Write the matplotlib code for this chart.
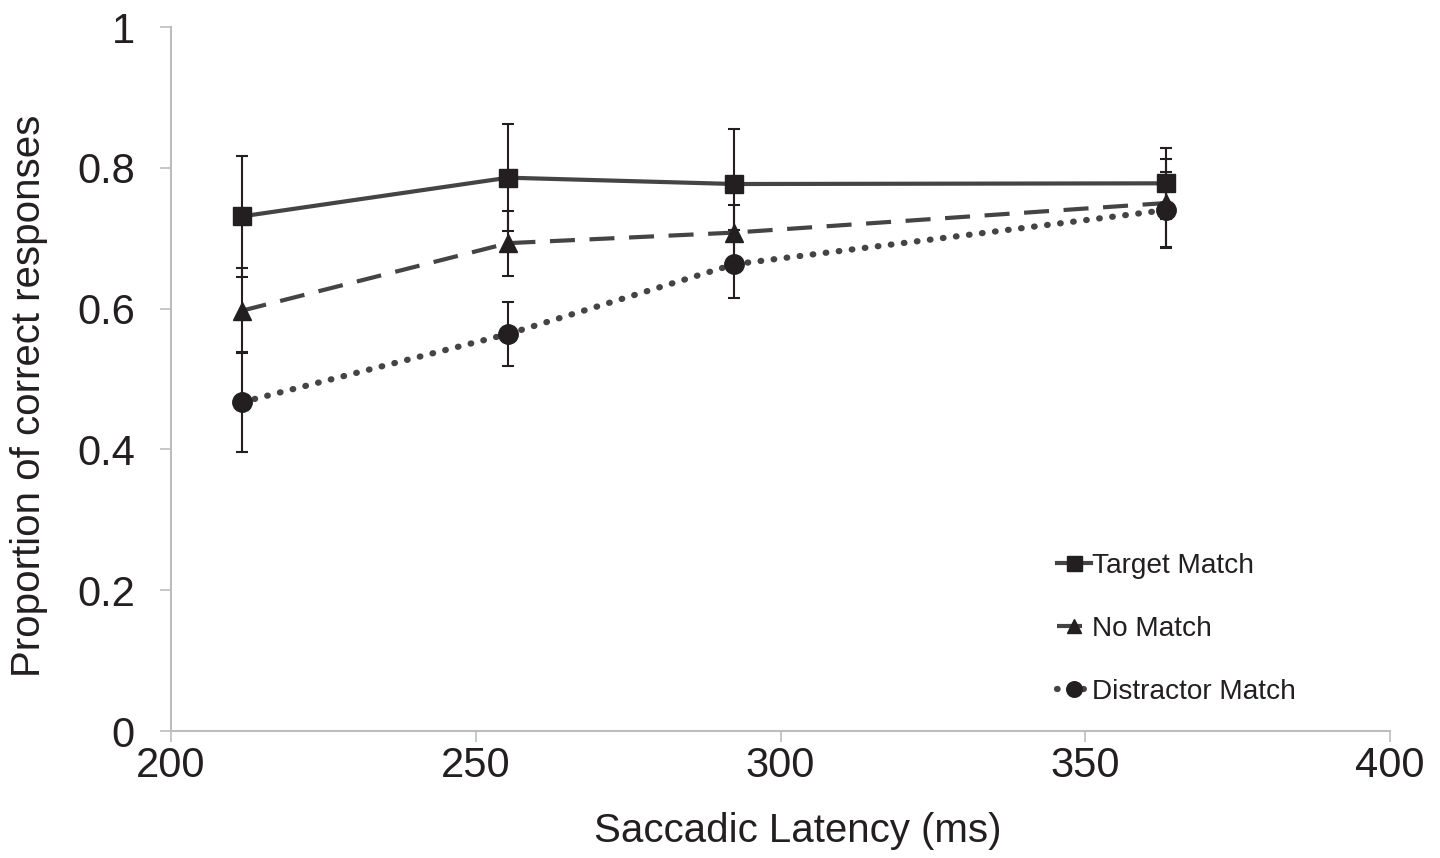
import matplotlib
matplotlib.use("Agg")
import matplotlib.pyplot as plt

# data
latency = [211.6, 255.3, 292.4, 363.2]

target = [0.731, 0.786, 0.777, 0.778]
target_err = [0.086, 0.076, 0.078, 0.050]

nomatch = [0.597, 0.693, 0.708, 0.750]
nomatch_err = [0.060, 0.046, 0.039, 0.062]

distract = [0.467, 0.564, 0.663, 0.740]
distract_err = [0.071, 0.046, 0.048, 0.054]

plt.rcParams['font.family'] = ['Liberation Sans', 'DejaVu Sans']

fig = plt.figure(figsize=(14.4, 8.58), dpi=100)
ax = fig.add_axes([0.1188, 0.148, 0.8465, 0.8205])

line_col = '#444444'
mark_col = '#231f20'

# error bars
for y, e in [(target, target_err), (nomatch, nomatch_err), (distract, distract_err)]:
    ax.errorbar(latency, y, yerr=e, fmt='none', ecolor='#231f20',
                elinewidth=1.5, capsize=4, capthick=1.5, zorder=2)

ax.plot(latency, target, color=line_col, lw=3, ls='-', marker='s', ms=13.5,
        mfc=mark_col, mec=mark_col, label='Target Match', zorder=3)
ax.plot(latency, nomatch, color=line_col, lw=3, ls=(0, (6, 3.5)), marker='^', ms=13,
        mfc=mark_col, mec=mark_col, label='No Match', zorder=3)
ax.plot(latency, distract, color=line_col, lw=4.5, ls=(0, (0.1, 2.0)),
        dash_capstyle='round', marker='o', ms=14, mfc=mark_col, mec=mark_col,
        label='Distractor Match', zorder=3)

ax.set_xlim(200, 400)
ax.set_ylim(0, 1)
ax.set_xticks([200, 250, 300, 350, 400])
ax.set_yticks([0, 0.2, 0.4, 0.6, 0.8, 1])
ax.set_yticklabels(['0', '0.2', '0.4', '0.6', '0.8', '1'])

for s in ['top', 'right']:
    ax.spines[s].set_visible(False)
for s in ['left', 'bottom']:
    ax.spines[s].set_color('#bdbdbd')
    ax.spines[s].set_linewidth(1.5)
ax.tick_params(axis='both', direction='out', length=8, width=1.2, color='#bdbdbd',
               labelsize=30, labelcolor='#231f20')
ax.tick_params(axis='y', pad=18)
ax.tick_params(axis='x', pad=3)

ax.set_xlabel('Saccadic Latency (ms)', fontsize=29, color='#231f20')
ax.set_ylabel('Proportion of correct responses', fontsize=29, color='#231f20')
ax.xaxis.set_label_coords(0.514, -0.115)
ax.yaxis.set_label_coords(-0.101, 0.476)

leg = ax.legend(loc='upper left', bbox_to_anchor=(0.706, 0.289), frameon=False,
                fontsize=20.2, handlelength=1.2, handletextpad=0.05, labelspacing=1.32,
                markerscale=0.8)
for t in leg.get_texts():
    t.set_color('#231f20')

fig.savefig('out.png', dpi=100)
